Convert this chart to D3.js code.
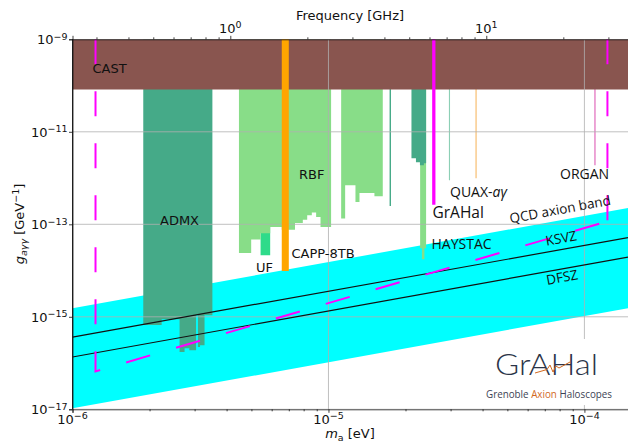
<!DOCTYPE html>
<html>
<head>
<meta charset="utf-8">
<script src="https://cdn.jsdelivr.net/npm/d3@7"></script>
<style>
  body { margin: 0; background: #fff; }
  svg { display: block; }
  text { font-family: "DejaVu Sans", sans-serif; fill: #111; }
  .note { font-family: "Open Sans", sans-serif; }
</style>
</head>
<body>
<svg width="628" height="443"></svg>
<script>
// exclusion limits: mass edges [eV] and coupling limit per step [GeV^-1]
const castEdges = [1e-7, 1e-3], castLimit = [8.2e-11];
const admxEdges = [1.89e-6, 2.23e-6, 2.62e-6, 2.74e-6, 2.86e-6, 3.04e-6, 3.09e-6, 3.15e-6, 3.28e-6, 3.52e-6];
const admxLimit = [6.65e-16, 8.8e-16, 1.73e-16, 2.08e-16, 1.89e-16, 1.08e-15, 2.22e-16, 2.42e-16, 1.08e-15];
const admxHiEdges = [2.11e-5, 2.197e-5, 2.277e-5, 2.36e-5, 2.407e-5];
const admxHiLimit = [2.67e-12, 2.19e-12, 1.89e-12, 2.08e-12];
const admxLineEdges = [1.733e-5, 1.755e-5], admxLineLimit = [2.49e-13];
const rbfEdges = [4.47e-6, 4.99e-6, 5.43e-6, 5.92e-6, 6.57e-6, 7.40e-6, 7.94e-6, 8.26e-6, 8.61e-6, 8.95e-6, 9.31e-6, 1.024e-5];
const rbfLimit = [2.39e-14, 4.67e-14, 6.38e-14, 8.75e-14, 7.67e-14, 1.07e-13, 1.26e-13, 1.57e-13, 1.79e-13, 1.44e-13, 8.75e-14];
const rbf2Edges = [1.121e-5, 1.162e-5, 1.275e-5, 1.322e-5, 1.512e-5, 1.630e-5];
const rbf2Limit = [1.33e-13, 6.97e-13, 3.03e-13, 4.75e-13, 4.03e-13];
const haystacEdges = [2.281e-5, 2.318e-5, 2.371e-5, 2.407e-5], haystacLimit = [3.03e-14, 1.75e-14, 3.03e-14];
const ufEdges = [5.43e-6, 5.92e-6], ufLimit = [2.14e-14];
const cappEdges = [6.57e-6, 7.0e-6], cappLimit = [9.78e-15];
const grahalEdges = [2.542e-5, 2.618e-5], grahalLimit = [2.64e-13];
const quaxEdges = [2.955e-5, 2.985e-5], quaxLimit = [8.94e-13];
const quax2Edges = [3.755e-5, 3.79e-5], quax2Limit = [9.9e-13];
const organEdges = [1.093e-4, 1.106e-4], organLimit = [1.89e-12];

// QCD band and models (at the two ends of the mass axis)
const bandM = [1e-6, 1.48e-4];
const bandTop = [1.53e-15, 2.25e-13];
const bandBottom = [1.05e-17, 1.53e-15];
const ksvzG = [3.65e-16, 5.15e-14];
const dfszG = [1.35e-16, 1.96e-14];

// GrAHal projected sensitivity (dashed)
const projM = [1.23e-6, 1.23e-6, 1.23e-4];
const projG = [1e-9, 6.6e-17, 1.16e-13];
const projRightM = [1.23e-4, 1.23e-4];
const projRightG = [1e-9, 1.16e-13];

const xMajor = [1e-6, 1e-5, 1e-4];
const yMajor = [1e-17, 1e-15, 1e-13, 1e-11, 1e-9];
const fMajor = [1, 10];

const svg = d3.select("svg");
const L = 72.5, R = 628, T = 39.3, B = 409.3;
const x = d3.scaleLog().domain([1e-6, 1.48e-4]).range([L, R]);
const y = d3.scaleLog().domain([1e-17, 1e-9]).range([B, T]);
const eV2GHz = 2.418e5;
const xf = d3.scaleLog().domain(x.domain().map(d => d * eV2GHz)).range([L, R]);

svg.append("clipPath").attr("id", "clip")
	.append("rect").attr("x", L).attr("y", T).attr("width", R - L).attr("height", B - T);

const plot = svg.append("g").attr("clip-path", "url(#clip)");

function steps(edges, limits) {
	var pts = limits.map((g, i) => ({m: edges[i], g: g}));
	pts.push({m: edges[edges.length - 1], g: limits[limits.length - 1]});
	return pts;
}
const area = d3.area()
	.x(d => x(d.m))
	.y0(y(1e-9) - 5)
	.y1(d => y(d.g))
	.curve(d3.curveStepAfter);

function region(edges, limits, color) {
	plot.append("path").attr("d", area(steps(edges, limits))).attr("fill", color);
}

// band
const band = bandM.map((m, i) => ({m: m, top: bandTop[i], bot: bandBottom[i]}));
plot.append("path")
	.attr("d", d3.area().x(d => x(d.m)).y0(d => y(d.bot)).y1(d => y(d.top))(band))
	.attr("fill", "#00ffff");

region(ufEdges, ufLimit, "#2edb8a");
region(rbfEdges, rbfLimit, "#88dd88");
region(rbf2Edges, rbf2Limit, "#88dd88");
region(haystacEdges, haystacLimit, "#88dd88");
region(admxEdges, admxLimit, "#45aa88");
region(admxHiEdges, admxHiLimit, "#45aa88");
region(admxLineEdges, admxLineLimit, "#45aa88");
region(quaxEdges, quaxLimit, "#8ccfb5");
region(quax2Edges, quax2Limit, "#f7b45a");
region(organEdges, organLimit, "#e377c2");
region(castEdges, castLimit, "#89554f");

// grid
plot.append("g").selectAll("line").data(yMajor).enter().append("line")
	.attr("x1", L).attr("x2", R).attr("y1", d => y(d)).attr("y2", d => y(d))
	.attr("stroke", "#b0b0b0").attr("stroke-width", 0.8);
plot.append("g").selectAll("line").data(xMajor).enter().append("line")
	.attr("x1", d => x(d)).attr("x2", d => x(d)).attr("y1", T).attr("y2", B)
	.attr("stroke", "#b0b0b0").attr("stroke-width", 0.8);

// model lines
const line = d3.line().x(d => x(d[0])).y(d => y(d[1]));
[ksvzG, dfszG].forEach(function(gs) {
	plot.append("path").attr("d", line(bandM.map((m, i) => [m, gs[i]])))
		.attr("fill", "none").attr("stroke", "#111").attr("stroke-width", 1.2);
});

region(cappEdges, cappLimit, "#ffa500");
region(grahalEdges, grahalLimit, "#ff00ff");

// projection
plot.append("path").attr("d", line(projM.map((m, i) => [m, projG[i]])))
	.attr("fill", "none").attr("stroke", "#ff00ff").attr("stroke-width", 2)
	.attr("stroke-dasharray", "25,27");
plot.append("path").attr("d", line(projRightM.map((m, i) => [m, projRightG[i]])))
	.attr("fill", "none").attr("stroke", "#ff00ff").attr("stroke-width", 2)
	.attr("stroke-dasharray", "25,27");

// spines
svg.append("line").attr("x1", L).attr("x2", L).attr("y1", T).attr("y2", B).attr("stroke", "#111").attr("stroke-width", 0.9);

// axes
function minors(lo, hi) {
	var out = [];
	for (var e = lo; e <= hi; e++)
		for (var k = 2; k <= 9; k++) out.push(k * Math.pow(10, e));
	return out;
}
const gx = svg.append("g").attr("transform", `translate(0,${B})`);
gx.call(d3.axisBottom(x).tickValues(xMajor).tickSize(3.5).tickFormat(""));
gx.append("g").call(d3.axisBottom(x).tickValues(minors(-6, -5).filter(d => d < 1.48e-4)).tickSize(2).tickFormat(""))
	.select(".domain").remove();
const gt = svg.append("g").attr("transform", `translate(0,${T})`);
gt.call(d3.axisTop(xf).tickValues(fMajor).tickSize(3.5).tickFormat(""));
gt.append("g").call(d3.axisTop(xf).tickValues(minors(-1, 1).filter(d => d > 0.2418 && d < 35.7)).tickSize(2).tickFormat(""))
	.select(".domain").remove();
const gy = svg.append("g").attr("transform", `translate(${L},0)`);
gy.call(d3.axisLeft(y).tickValues(yMajor).tickSize(3.5).tickFormat(""));
svg.selectAll(".domain, .tick line").attr("stroke", "#111").attr("stroke-width", 0.8);

function pow10(sel, d) {
	var e = Math.round(Math.log10(d));
	sel.append("tspan").text("10");
	sel.append("tspan").attr("dy", "-0.5em").attr("font-size", "9.5px").text(e < 0 ? "\u2212" + (-e) : e);
}
svg.append("g").selectAll("text").data(xMajor).enter().append("text")
	.attr("x", d => x(d)).attr("y", 424).attr("text-anchor", "middle").attr("font-size", "13px")
	.each(function(d) { pow10(d3.select(this), d); });
svg.append("g").selectAll("text").data(fMajor).enter().append("text")
	.attr("x", d => xf(d)).attr("y", 32.5).attr("text-anchor", "middle").attr("font-size", "13px")
	.each(function(d) { pow10(d3.select(this), d); });
svg.append("g").selectAll("text").data(yMajor).enter().append("text")
	.attr("x", 67.5).attr("y", d => y(d) + 5).attr("text-anchor", "end").attr("font-size", "13px")
	.each(function(d) { pow10(d3.select(this), d); });

// axis titles
svg.append("text").attr("x", 350).attr("y", 20).attr("text-anchor", "middle").attr("font-size", "13px").text("Frequency [GHz]");
const xl = svg.append("text").attr("x", 350).attr("y", 438).attr("text-anchor", "middle").attr("font-size", "13px");
xl.append("tspan").attr("font-style", "italic").text("m");
xl.append("tspan").attr("dy", 3).attr("font-size", "9.5px").text("a");
xl.append("tspan").attr("dy", -3).text(" [eV]");
const yl = svg.append("text").attr("transform", "translate(24,224) rotate(-90)").attr("text-anchor", "middle").attr("font-size", "13px");
yl.append("tspan").attr("font-style", "italic").text("g");
yl.append("tspan").attr("dy", 3).attr("font-size", "9.5px").attr("font-style", "italic").text("a\u03b3\u03b3");
yl.append("tspan").attr("dy", -3).text(" [GeV");
yl.append("tspan").attr("dy", -5).attr("font-size", "9.5px").text("\u22121");
yl.append("tspan").attr("dy", 5).text("]");

// region labels
const labels = [
	["CAST", 92.5, 72.5, "DejaVu Sans", 13],
	["ADMX", 160, 225, "DejaVu Sans", 13],
	["RBF", 299, 179, "DejaVu Sans", 13],
	["UF", 256, 271.5, "DejaVu Sans", 13],
	["CAPP-8TB", 291.5, 258, "DejaVu Sans", 13],
	["HAYSTAC", 431.5, 249, "Open Sans", 14],
	["GrAHal", 432.5, 218.3, "Open Sans", 15.5],
	["ORGAN", 560, 179.3, "Open Sans", 14]
];
svg.append("g").selectAll("text").data(labels).enter().append("text")
	.attr("x", d => d[1]).attr("y", d => d[2])
	.style("font-family", d => d[3]).attr("font-size", d => d[4] + "px")
	.text(d => d[0]);
const qx = svg.append("text").attr("class", "note").attr("x", 450).attr("y", 196.7).attr("font-size", "14px");
qx.append("tspan").text("QUAX-");
qx.append("tspan").attr("font-style", "italic").text("a\u03b3");

const rot = [["QCD axion band", 561, 214, 13.5], ["KSVZ", 562, 243, 13.5], ["DFSZ", 563, 282, 13.5]];
svg.append("g").selectAll("text").data(rot).enter().append("text")
	.attr("class", "note").attr("text-anchor", "middle").attr("font-size", d => d[3] + "px")
	.attr("transform", d => `translate(${d[1]},${d[2]}) rotate(-10.5)`)
	.text(d => d[0]);

// logo
svg.append("rect").attr("x", 478).attr("y", 339).attr("width", 146).attr("height", 66).attr("fill", "#fff");
svg.append("text").attr("x", 495).attr("y", 375).attr("font-size", "30px")
	.attr("textLength", 103).attr("lengthAdjust", "spacingAndGlyphs")
	.style("font-family", "Lato").style("font-weight", 300).style("fill", "#2b3448").text("GrAHal");
svg.append("path").attr("d", "M535,373 L547,369.5 L550,365 L553,372 L556,366 L559,368 L570,362")
	.attr("fill", "none").attr("stroke", "#d2691e").attr("stroke-width", 1);
const sub = svg.append("text").attr("class", "note").attr("x", 486).attr("y", 398).attr("font-size", "10px")
	.attr("textLength", 126).attr("lengthAdjust", "spacingAndGlyphs").style("fill", "#3c4254");
sub.append("tspan").text("Grenoble ");
sub.append("tspan").style("fill", "#d2691e").text("Axion");
sub.append("tspan").text(" Haloscopes");
</script>
</body>
</html>
